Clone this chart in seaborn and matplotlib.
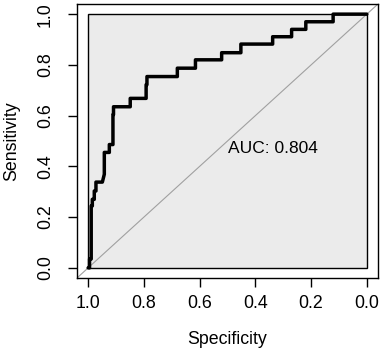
import numpy as np
import pandas as pd
import matplotlib
matplotlib.use("Agg")
import matplotlib.pyplot as plt
import seaborn as sns

# ROC path (specificity, sensitivity vertices)
specificity = [1.000, 0.995, 0.995, 0.989, 0.989, 0.985, 0.985, 0.978, 0.978,
               0.972, 0.972, 0.949, 0.942, 0.942, 0.924, 0.924, 0.911, 0.911,
               0.909, 0.909, 0.849, 0.849, 0.792, 0.792, 0.789, 0.789, 0.680,
               0.680, 0.615, 0.615, 0.521, 0.521, 0.452, 0.452, 0.338, 0.338,
               0.270, 0.270, 0.219, 0.219, 0.121, 0.121, 0.000]
sensitivity = [0.000, 0.000, 0.035, 0.035, 0.244, 0.244, 0.270, 0.270, 0.303,
               0.303, 0.338, 0.338, 0.369, 0.455, 0.455, 0.486, 0.486, 0.604,
               0.604, 0.635, 0.635, 0.668, 0.668, 0.722, 0.722, 0.754, 0.754,
               0.787, 0.787, 0.820, 0.820, 0.848, 0.848, 0.882, 0.882, 0.911,
               0.911, 0.940, 0.940, 0.970, 0.970, 1.000, 1.000]
auc_value = 0.804
ticks = [0.0, 0.2, 0.4, 0.6, 0.8, 1.0]

sns.set_style("white")
plt.rcParams['font.family'] = ['Liberation Sans', 'DejaVu Sans']
plt.rcParams.update({'text.color': 'black', 'axes.labelcolor': 'black',
                     'xtick.color': 'black', 'ytick.color': 'black'})
FS = 12.8

fig = plt.figure(figsize=(3.83, 3.52), dpi=100)
ax = fig.add_axes([77 / 383, 1 - 278 / 352, 301 / 383, 274 / 352])

# gray plotting region with black border (pROC style)
ax.add_patch(plt.Rectangle((0, 0), 1, 1, facecolor='#ebebeb',
                           edgecolor='black', linewidth=1.0, zorder=0))
# chance diagonal
ax.plot([1.04, -0.04], [-0.04, 1.04], color='#a0a0a0', linewidth=0.8, zorder=1)

df = pd.DataFrame({'Specificity': specificity, 'Sensitivity': sensitivity})
sns.lineplot(data=df, x='Specificity', y='Sensitivity', sort=False,
             estimator=None, color='black', linewidth=2.5, ax=ax, zorder=3)

ax.text(0.5, 0.5, f'AUC: {auc_value:.3f}', ha='left', va='top', fontsize=12.5)

ax.set_xlim(1.04, -0.04)
ax.set_ylim(-0.04, 1.04)
ax.set_xticks(ticks)
ax.set_yticks(ticks)
ax.set_xticklabels([f'{t:.1f}' for t in ticks], fontsize=FS)
ax.set_yticklabels([f'{t:.1f}' for t in ticks], fontsize=FS, rotation=90, va='center')
ax.tick_params(axis='both', direction='out', length=6.5, width=1, color='black',
               bottom=True, left=True)
ax.tick_params(axis='x', pad=5.5)
ax.tick_params(axis='y', pad=10)
ax.set_xlabel('Specificity', fontsize=FS, va='center')
ax.set_ylabel('Sensitivity', fontsize=FS, va='center')
ax.xaxis.set_label_coords(0.5, (13 - 74) / 274)
ax.yaxis.set_label_coords((12 - 77) / 301, 0.5)
for s in ax.spines.values():
    s.set_color('black')
    s.set_linewidth(1.0)

fig.savefig('out.png', dpi=100)
